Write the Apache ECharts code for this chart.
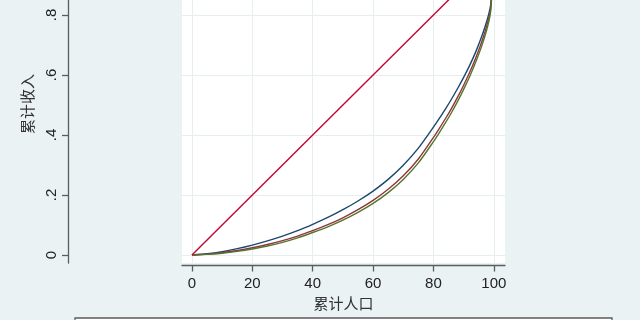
<!DOCTYPE html>
<html><head><meta charset="utf-8">
<script src="https://cdn.jsdelivr.net/npm/echarts@6/dist/echarts.min.js"></script>
<style>html,body{margin:0;padding:0;background:#eaf2f3;overflow:hidden;width:640px;height:320px;position:relative}#c{width:640px;height:376px;position:absolute;left:0;top:-56px}</style>
</head><body><div id="c"></div>
<script>
const pop         = [0,5,10,15,20,25,30,35,40,45,50,55,60,65,70,75,80,82,84,86,88,90,92,94,96,98,99,100];
const lorenzBlue  = [0,0.004,0.011,0.021,0.033,0.047,0.063,0.081,0.102,0.125,0.151,0.180,0.213,0.252,0.299,0.356,0.426,0.456,0.487,0.520,0.555,0.592,0.632,0.677,0.729,0.791,0.838,1];
const lorenzRed   = [0,0.003,0.008,0.015,0.024,0.035,0.048,0.063,0.081,0.101,0.124,0.151,0.182,0.219,0.264,0.320,0.392,0.423,0.455,0.489,0.526,0.566,0.609,0.657,0.711,0.776,0.826,1];
const lorenzGreen = [0,0.002,0.006,0.012,0.020,0.030,0.042,0.057,0.075,0.094,0.116,0.142,0.172,0.208,0.252,0.307,0.378,0.409,0.441,0.475,0.512,0.552,0.595,0.643,0.697,0.764,0.817,1];
const equality = [[0,0],[100,1]];
const xTicks = [0,20,40,60,80,100];
const yTicks = [0,0.2,0.4,0.6,0.8,1];
const yTickLabels = ['0','.2','.4','.6','.8','1'];
const xTitle = '累计人口';
const yTitle = '累计收入';

const font = '"Liberation Sans","Noto Sans CJK SC",sans-serif';
const gridColor = '#e6eef0';
const axisColor = '#5c5c5c';
function mk(name, ys, color){
  return {type:'line', name, data: pop.map((p,i)=>[p, ys[i]]), showSymbol:false,
    smooth:0.25, lineStyle:{color, width:1.4}, itemStyle:{color}, silent:true, z:3};
}
const chart = echarts.init(document.getElementById('c'), null, {renderer:'canvas'});
chart.setOption({
  backgroundColor:'#eaf2f3',
  animation:false,
  grid:{left:182, right:135, top:1, bottom:57, show:true, backgroundColor:'#ffffff', borderWidth:0, containLabel:false},
  xAxis:{type:'value', min:-3.3, max:103.7, offset:2.5,
    axisLine:{show:true, onZero:false, lineStyle:{color:axisColor, width:1.3}},
    axisTick:{show:true, length:6, lineStyle:{color:axisColor, width:1.3}, customValues:xTicks},
    axisLabel:{customValues:xTicks, color:'#222', fontSize:15, fontFamily:font, margin:11},
    splitLine:{show:true, lineStyle:{color:gridColor, width:1}},
    name:xTitle, nameLocation:'middle', nameGap:32, nameTextStyle:{color:'#333', fontSize:15, fontFamily:font}},
  yAxis:{type:'value', min:-0.0267, max:1.0333, offset:114,
    axisLine:{show:true, onZero:false, lineStyle:{color:axisColor, width:1.3}},
    axisTick:{show:true, length:6, lineStyle:{color:axisColor, width:1.3}, customValues:yTicks},
    axisLabel:{customValues:yTicks, rotate:90, color:'#222', fontSize:15, fontFamily:font, margin:9,
      formatter:(v)=>{const i=yTicks.findIndex(t=>Math.abs(t-v)<1e-6); return i>=0?yTickLabels[i]:'';}},
    splitLine:{show:true, lineStyle:{color:gridColor, width:1}},
    name:yTitle, nameLocation:'middle', nameGap:22, nameTextStyle:{color:'#333', fontSize:15, fontFamily:font}},
  series:[
    {type:'line', name:'equality', data:equality, showSymbol:false, lineStyle:{color:'#c10534', width:1.4}, silent:true, z:4},
    mk('blue', lorenzBlue, '#1a476f'),
    mk('red', lorenzRed, '#90353b'),
    mk('green', lorenzGreen, '#55752f')
  ],
  graphic:[{type:'rect', shape:{x:75, y:374, width:537, height:20}, style:{fill:'#ffffff', stroke:'#5c5c5c', lineWidth:1.3}}]
});
</script></body></html>
